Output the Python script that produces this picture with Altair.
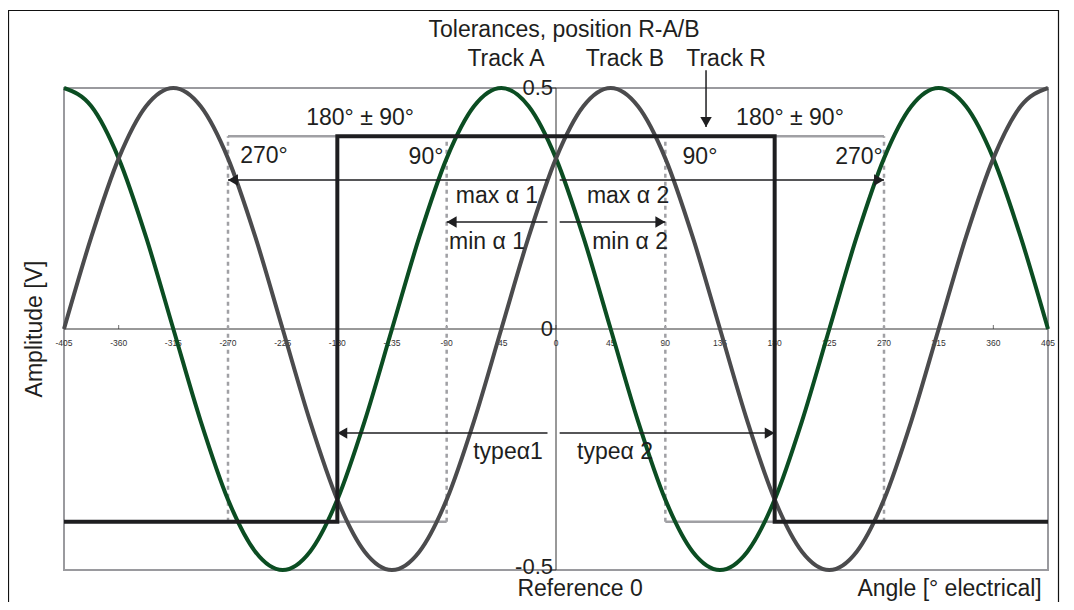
import altair as alt
import pandas as pd

# ---------------- data ----------------
angles = [-405, -382.5, -360, -337.5, -315, -292.5, -270, -247.5, -225, -202.5,
          -180, -157.5, -135, -112.5, -90, -67.5, -45, -22.5, 0, 22.5, 45, 67.5,
          90, 112.5, 135, 157.5, 180, 202.5, 225, 247.5, 270, 292.5, 315, 337.5,
          360, 382.5, 405]
track_a = [0.5, 0.462, 0.354, 0.191, 0, -0.191, -0.354, -0.462, -0.5, -0.462,
           -0.354, -0.191, 0, 0.191, 0.354, 0.462, 0.5, 0.462, 0.354, 0.191, 0,
           -0.191, -0.354, -0.462, -0.5, -0.462, -0.354, -0.191, 0, 0.191, 0.354,
           0.462, 0.5, 0.462, 0.354, 0.191, 0]
track_b = [0, 0.191, 0.354, 0.462, 0.5, 0.462, 0.354, 0.191, 0, -0.191, -0.354,
           -0.462, -0.5, -0.462, -0.354, -0.191, 0, 0.191, 0.354, 0.462, 0.5,
           0.462, 0.354, 0.191, 0, -0.191, -0.354, -0.462, -0.5, -0.462, -0.354,
           -0.191, 0, 0.191, 0.354, 0.462, 0.5]

track_r_x = [-405, -180, -180, 180, 180, 405]
track_r_y = [-0.4, -0.4, 0.4, 0.4, -0.4, -0.4]

tol_left = [-270, 90]
tol_right = [-90, 270]
tol_high = 0.4
tol_low = -0.4
tol_edges = [-270, -90, 90, 270]

x_ticks = [-405, -360, -315, -270, -225, -180, -135, -90, -45, 0, 45, 90, 135,
           180, 225, 270, 315, 360, 405]
y_ticks = [0.5, 0, -0.5]
y_tick_labels = ["0.5", "0", "-0.5"]
y_label_level = [0.5, 0, -0.494]

arrow_from = [-7, 3, -7, 3, -7, 3]
arrow_to = [-270, 270, -90, 90, -180, 180]
arrow_level = [0.309, 0.309, 0.222, 0.222, -0.216, -0.216]

track_r_arrow_x = 123.5
track_r_arrow_top = 0.537
track_r_arrow_tip = 0.419

notes = ["Tolerances, position R-A/B", "Track A", "Track B", "Track R",
         "180° ± 90°", "180° ± 90°", "270°", "90°", "90°", "270°",
         "max α 1", "max α 2", "min α 1", "min α 2", "typeα1", "typeα 2",
         "Reference 0", "Angle [° electrical]"]
notes_x = [6.6, -41.2, 56.8, 140, -161.3, 192.6, -240.4, -107, 118.5, 249.4,
           -48.6, 59.3, -56.8, 61, -39.5, 48.6, 19.8, 324]
notes_y = [0.620, 0.560, 0.560, 0.560, 0.438, 0.438, 0.359, 0.357, 0.357, 0.357,
           0.276, 0.276, 0.180, 0.180, -0.255, -0.255, -0.539, -0.540]

y_title = "Amplitude [V]"
y_title_x = -428.9
y_title_y = 0.0
x_label_level = -0.029

# ---------------- tables ----------------
curves = pd.DataFrame({
    "x": angles * 2,
    "y": track_a + track_b,
    "track": ["A"] * len(angles) + ["B"] * len(angles),
    "i": list(range(len(angles))) * 2,
})
square = pd.DataFrame({"x": track_r_x, "y": track_r_y, "i": list(range(len(track_r_x)))})
tol_h = pd.DataFrame({
    "x": tol_left * 2, "x2": tol_right * 2,
    "y": [tol_high] * len(tol_left) + [tol_low] * len(tol_left),
})
tol_v = pd.DataFrame({"x": tol_edges, "y": [tol_low] * len(tol_edges),
                      "y2": [tol_high] * len(tol_edges)})
xt = pd.DataFrame({"x": x_ticks, "y": [0] * len(x_ticks),
                   "yl": [x_label_level] * len(x_ticks),
                   "label": [str(v) for v in x_ticks]})
yt = pd.DataFrame({"x": [0] * len(y_ticks), "y": y_ticks, "yl": y_label_level,
                   "label": y_tick_labels})
arrows = pd.DataFrame({"x": arrow_from, "x2": arrow_to, "y": arrow_level})
arrows["dir"] = ["L" if b < a else "R" for a, b in zip(arrow_from, arrow_to)]
vert = pd.DataFrame({"x": [track_r_arrow_x], "y": [track_r_arrow_top],
                     "y2": [track_r_arrow_tip]})
notes_df = pd.DataFrame({"text": notes, "x": notes_x, "y": notes_y})
ytitle_df = pd.DataFrame({"text": [y_title], "x": [y_title_x], "y": [y_title_y]})
axis_x = pd.DataFrame({"x": [x_ticks[0]], "x2": [x_ticks[-1]], "y": [0]})
axis_y = pd.DataFrame({"x": [0], "y": [y_ticks[-1]], "y2": [y_ticks[0]]})
frame_df = pd.DataFrame({"k": [0]})

xs = alt.Scale(domain=[-405, 405], nice=False, zero=False)
ys = alt.Scale(domain=[-0.5, 0.5], nice=False, zero=False)
X = lambda f="x": alt.X(f"{f}:Q", scale=xs, axis=None)
Y = lambda f="y": alt.Y(f"{f}:Q", scale=ys, axis=None)

FONT = "Liberation Sans"
INK = "#1e1e20"
FS = 23

frame = alt.Chart(frame_df).mark_rect(fillOpacity=0, stroke="#111111", strokeWidth=1.2).encode(
    x=alt.value(-55.5), x2=alt.value(994.5), y=alt.value(-77.5), y2=alt.value(540))

ax_x = alt.Chart(axis_x).mark_rule(color="#333333", strokeWidth=1).encode(
    x=X(), x2="x2:Q", y=Y())
ax_y = alt.Chart(axis_y).mark_rule(color="#333333", strokeWidth=1).encode(
    x=X(), y=Y(), y2="y2:Q")
xticks = alt.Chart(xt).mark_tick(orient="vertical", size=4, thickness=1, yOffset=-2,
                                 color="#333333").encode(x=X(), y=Y())
xlabels = alt.Chart(xt).mark_text(font=FONT, fontSize=8.5, color="#333333",
                                  baseline="middle").encode(x=X(), y=Y("yl"), text="label:N")
yticks = alt.Chart(yt).mark_tick(orient="horizontal", size=5, thickness=1, xOffset=-2.5,
                                 color="#333333").encode(x=X(), y=Y())
ylabels = alt.Chart(yt).mark_text(font=FONT, fontSize=22, color=INK, align="right",
                                  baseline="middle", dx=-3).encode(x=X(), y=Y("yl"), text="label:N")

tolh = alt.Chart(tol_h).mark_rule(color="#a0a0a4", strokeWidth=2.5).encode(
    x=X(), x2="x2:Q", y=Y())
tolv = alt.Chart(tol_v).mark_rule(color="#a0a0a4", strokeWidth=2.5, strokeDash=[4, 4]).encode(
    x=X(), y=Y(), y2="y2:Q")

curve_lines = alt.Chart(curves).mark_line(strokeWidth=4, interpolate="monotone").encode(
    x=X(), y=Y(), detail="track:N", order="i:Q",
    color=alt.Color("track:N", scale=alt.Scale(domain=["A", "B"],
                                               range=["#0b4d22", "#4b4b4d"]), legend=None))
sq = alt.Chart(square).mark_line(strokeWidth=4, color=INK).encode(
    x=X(), y=Y(), order="i:Q")

arrow_lines = alt.Chart(arrows).mark_rule(color=INK, strokeWidth=1.5).encode(
    x=X(), x2="x2:Q", y=Y())
head_l = alt.Chart(arrows).transform_filter(alt.datum.dir == "L").mark_point(
    shape="triangle-left", filled=True, size=130, opacity=1, color=INK, xOffset=5).encode(
    x=X("x2"), y=Y())
head_r = alt.Chart(arrows).transform_filter(alt.datum.dir == "R").mark_point(
    shape="triangle-right", filled=True, size=130, opacity=1, color=INK, xOffset=-5).encode(
    x=X("x2"), y=Y())
vline = alt.Chart(vert).mark_rule(color=INK, strokeWidth=1.5).encode(
    x=X(), y=Y(), y2="y2:Q")
vhead = alt.Chart(vert).mark_point(shape="triangle-down", filled=True, size=130, opacity=1,
                                   color=INK, yOffset=-5).encode(x=X(), y=Y("y2"))

texts = alt.Chart(notes_df).mark_text(font=FONT, fontSize=FS, color=INK,
                                      baseline="middle").encode(x=X(), y=Y(), text="text:N")
ytitle = alt.Chart(ytitle_df).mark_text(font=FONT, fontSize=FS, color=INK, angle=270,
                                        baseline="middle").encode(x=X(), y=Y(), text="text:N")

chart = alt.layer(
    frame, ax_x, ax_y, xticks, xlabels, yticks, tolh, tolv, curve_lines, sq,
    arrow_lines, head_l, head_r, vline, vhead, ylabels, texts, ytitle,
).properties(
    width=984, height=482,
    padding={"left": 56, "top": 80, "right": 12, "bottom": 32},
    autosize=alt.AutoSizeParams(type="none"),
    background="white",
).configure_view(stroke="#9a9a9e", strokeWidth=2)

chart.save("out.html", embed_options={"renderer": "svg", "actions": False})
